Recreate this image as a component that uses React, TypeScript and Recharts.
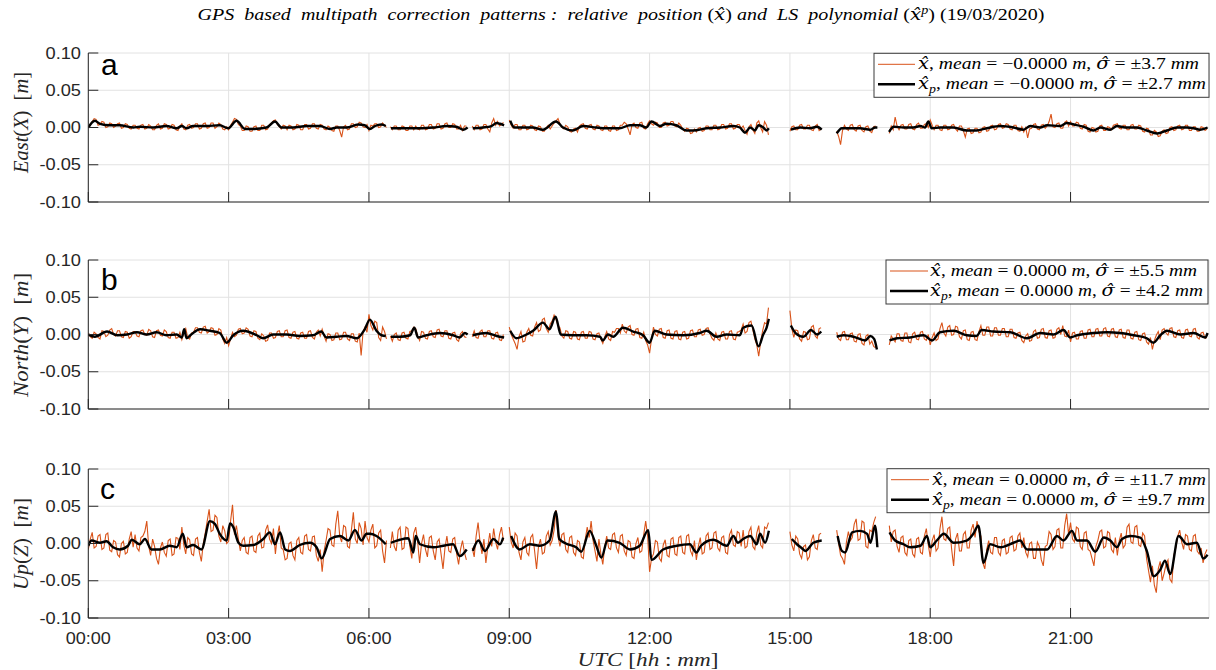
import React from 'react';
import { LineChart, Line, XAxis, YAxis, CartesianGrid } from 'recharts';

// ---------- DATA ----------
// Raw relative-position series (x̂): one sample every 2.5 minutes from 00:00
// (24 values per hour row), values in mm, null = data gap.
const STEP_MIN = 2.5;

const eastRawMm: (number | null)[] = [
  0, 4, 8, 12, 11, 3, 4, 8, 7, 0, 1, 6, 5, 0, 2, 5, 6, -1, 0, 5, 4, -1, -2, 3,
  3, -1, -2, 3, 4, -2, -1, 4, 2, -3, -3, 3, 5, -2, -1, 5, 4, -2, -1, 4, 3, -3, -4, 2,
  5, -2, -3, 3, 4, -1, 0, 5, 5, -2, -1, 5, 6, -1, 0, 6, 6, -1, 1, 6, 4, -2, -3, 1,
  -3, 3, 7, 12, 11, 4, 2, -4, -4, 2, 1, -5, -5, 1, 2, -4, -4, 3, 3, -3, -2, 4, 6, 9,
  10, 4, 1, -2, 3, 2, -3, 3, 2, -3, -2, 4, 3, -3, -3, 4, 4, -2, -1, 5, 5, -1, -2, 4,
  3, -2, -3, 2, 0, -4, -5, 2, 2, -4, -13, 1, 3, -3, -2, 5, 5, 0, 1, 7, 6, 1, 0, 4,
  -4, 3, 2, 5, 5, 0, 1, 6, 3, 0, null, 1, -3, 2, 2, -3, -3, 2, 1, -4, -4, 2, 2, -3,
  2, -2, -3, 3, 3, -3, -2, 4, 4, -2, -1, 5, 5, -2, -1, 5, 6, 0, 0, 5, 4, -2, -2, 3,
  -4, 2, 2, null, null, 2, -3, 3, 3, -3, -2, 4, 4, -2, -6, 6, 12, 3, 8, 2, 4, 7, null, null,
  10, 3, -1, 4, 4, -3, -3, 3, 3, -3, -2, 3, 2, -3, -4, 2, 1, -5, -5, 0, 3, -2, 2, 6,
  9, 12, 5, 0, -2, 3, 1, -5, -6, -2, -1, -6, 2, 4, 5, -1, -2, 3, 4, -2, -3, 3, 2, -3,
  -4, 2, 2, -4, -5, 2, 2, -4, -3, 3, 3, 7, 5, -2, -10, 4, 6, 0, -1, 6, 7, -1, -2, 5,
  9, 5, 3, 7, 6, 0, 0, 6, 7, 2, 3, 8, 8, 2, 1, 6, 3, -2, -5, -1, -2, -8, -7, -2,
  -6, -1, 0, -5, -4, 2, 2, -3, -3, 3, 3, -3, -2, 4, 4, -2, -1, 5, 5, -2, -1, 4, 4, -1,
  2, -4, -9, 1, 4, -3, -8, 6, 9, 0, -6, 8, 3, -10, null, null, null, null, null, null, null, null, null, null,
  -5, 1, 2, -3, -3, 3, 4, -2, -2, 3, 3, -3, -4, 2, 4, -4, -2, null, null, null, null, null, null, null,
  -5, -12, -23, -4, 3, -2, -4, 3, 4, -3, -5, 2, 3, -4, -6, 1, 2, -5, -7, 1, 2, null, null, null,
  null, null, null, -8, 2, -3, 14, 2, -3, 3, 4, -2, -2, 4, 5, -2, -3, 4, 6, -1, -1, 4, 5, 0,
  10, 3, -3, 3, 3, -3, -4, 3, 3, -3, -2, 3, 4, -2, -5, 2, 2, -4, -13, -2, -1, -8, -7, -1,
  -1, -7, -6, 0, 1, -5, -4, 2, 3, -3, -2, 4, 5, -1, 0, 5, 4, -2, -3, 3, 3, -4, -5, 1,
  -6, 0, -14, -2, -1, 4, 5, -2, -3, 3, 4, -1, 2, 8, 18, 1, 0, 5, 6, -1, -1, 7, 9, 2,
  8, 2, 2, 7, 6, -1, -2, 4, 3, -5, -6, 0, -1, -6, -5, 2, 3, -4, -4, 1, 0, -3, 3, 4,
  5, -1, -2, 3, 3, -3, -3, 3, 4, -2, -2, 3, 2, -5, -6, -1, -2, -10, -10, -4, -6, -12, -11, -5,
  -3, -8, -7, 0, 1, -4, -3, 2, 3, -3, -2, 3, 3, -4, -4, 1, 1, -5, -5, 1, 0, -4, -2, null,
];

const northRawMm: (number | null)[] = [
  2, -3, -5, 3, 1, -4, -6, 5, 4, -3, -1, 6, 8, 0, -2, 5, 5, -3, -4, 4, 3, -5, -3, 4,
  4, -2, -3, 5, 6, 0, -1, 7, 5, -3, -4, 5, 6, -1, -2, 6, 4, -4, -5, 3, 3, -5, -4, 3,
  -7, 2, 8, -4, -6, 2, 3, 9, 9, 3, 2, 10, 11, 2, 4, 9, 8, -1, 0, 8, 6, -6, -12, -4,
  -15, -6, 3, -3, -1, 7, 8, 1, 2, 9, 7, -2, -3, 5, 4, -5, -7, 1, -2, -9, -8, 2, 2, -5,
  -4, 4, 5, -3, -3, 5, 6, -4, -5, 3, 4, -5, -6, 2, 3, -5, -5, 4, 5, -4, -6, 3, 6, -2,
  7, -2, -9, 1, 0, -8, -7, 2, 2, -7, -6, 3, 3, -6, -8, 1, 1, -9, -10, 2, -28, 4, 10, 3,
  27, 12, 6, 18, 16, -4, -8, 10, 4, -6, null, -2, -9, 0, 2, -7, -8, 2, 3, -5, -6, 4, 5, 10,
  8, -2, -8, 4, 3, -5, -6, 4, 5, -3, -4, 6, 7, -2, -3, 5, 5, -5, -6, 2, 3, -7, -9, 1,
  4, -3, -4, null, null, -3, 5, -4, -5, 4, 6, -3, -3, 5, 5, -5, -6, 2, 3, -7, -8, 0, null, null,
  10, 0, -6, -12, -20, -3, 4, -10, -9, 3, 8, -1, -2, 10, 16, 4, 6, 20, 22, 8, 3, 14, 18, 26,
  20, 12, 9, -2, -5, 5, 4, -5, -6, 4, 3, -6, -7, 3, 4, -5, -5, 4, 3, -6, -7, 1, 2, -6,
  -12, -3, 4, -6, -8, 4, 3, 8, 8, 2, 14, 5, 2, 10, 12, 0, -1, 7, 8, -4, -5, 3, -8, -14,
  -25, -6, 10, 0, -2, 7, 8, -4, -5, 5, 6, -5, -6, 4, 5, -6, -7, 3, 4, -6, -5, 5, 6, -3,
  -3, 6, 7, -1, 0, 8, 9, 1, -5, -8, 2, -6, -8, 3, 4, -6, -6, 4, 5, -6, -7, 3, 4, 6,
  14, 2, 4, 16, 18, 6, -6, -14, -29, -10, 5, 16, 14, 36, null, null, null, null, null, null, null, null, null, null,
  32, 8, -4, 6, 5, -6, -9, 4, 3, -7, -6, 10, 12, -2, -5, 8, 9, null, null, null, null, null, null, null,
  3, -6, -8, 3, 4, -7, -7, 1, 2, -9, -10, 0, 1, -12, -14, -2, 0, -13, -9, -16, -18, null, null, null,
  null, null, null, -14, -2, -6, -10, 1, 1, -8, -9, 2, 2, -10, -11, 1, 3, -6, -7, 3, 4, -6, -8, 0,
  -14, -4, 2, -8, -6, 8, 16, 2, -2, 10, 12, -1, 0, 11, 10, -3, -6, 5, 6, -7, -8, 3, 4, -7,
  -8, 4, 12, -1, -1, 10, 10, -2, -2, 9, 9, -1, -1, 8, 8, -3, -3, 7, 7, -4, -5, 2, 3, -8,
  -11, -2, 1, -9, -8, 4, 6, -5, -4, 7, 8, -4, -5, 5, 6, -5, -4, 7, 9, 0, 12, -2, -3, 6,
  -10, 2, 3, -6, -6, 4, 5, -5, -5, 6, 7, -3, -3, 7, 8, -2, -2, 8, 9, -2, -3, 7, 8, -3,
  -4, 6, 7, -4, -5, 6, 6, -5, -6, 3, 4, -7, -8, 1, 2, -10, -13, -4, -20, -8, -1, 4, -7, 6,
  8, 2, -1, 8, 9, -3, -4, 5, 6, -4, -5, 6, 7, -2, -3, 7, 8, -4, -6, 2, 3, -5, -4, null,
];

const upRawMm: (number | null)[] = [
  -8, 6, 15, -6, -4, 10, 12, -8, -6, 12, 14, -9, -11, 4, 2, -15, -18, 0, 3, -14, -12, 6, 16, -5,
  12, -6, -10, 8, 10, 16, 30, -4, -16, 6, -4, -20, -28, -6, 2, -12, -17, 4, 6, -16, -14, 8, 7, -8,
  22, -2, -14, 8, 5, -14, -16, 6, 8, -12, -24, 0, 14, 30, 46, 16, 18, 38, 35, 10, 2, 24, 17, 0,
  3, 30, 52, 12, 24, 6, -10, 4, 8, -12, -14, 8, 10, -10, -12, 10, 14, -6, -5, 18, 25, 6, 0, 20,
  -14, 10, 24, -6, -8, -22, -20, 0, 2, -16, -22, 4, 8, -12, -14, 10, 12, -8, -10, 9, 10, -16, -24, -8,
  -38, -10, 4, 20, 18, -2, -4, 26, 44, 10, 2, 24, 22, -4, -6, 18, 42, 6, 0, 28, 20, -2, 30, 8,
  2, 18, 26, -6, -3, 14, 18, -10, -26, 4, null, -6, 16, -4, -10, 18, 22, -8, -6, 22, 20, -4, -20, 14,
  22, 2, -26, 0, 12, -8, -18, 8, 10, -10, -22, 2, 6, -14, -34, -6, 10, -10, -12, 6, 8, -14, -28, -8,
  4, -12, -22, null, null, -6, -18, 10, 28, 2, -14, 6, -26, -4, 14, -4, 20, 2, -8, 12, 22, 4, null, null,
  22, 2, -6, 14, 10, -12, -22, 2, 8, -12, -16, 8, 12, -10, -34, -4, 6, -14, -12, 10, 16, -2, 4, 18,
  45, 10, -4, 12, 14, -8, -12, 8, 10, -12, -16, 4, 2, -18, -20, 6, 22, 8, 30, 4, -10, -24, 6, -14,
  -28, -4, 10, -6, -8, 12, 14, -6, -12, 10, 12, -10, -16, 4, 2, -18, -20, 0, 8, -12, -10, 12, 30, 10,
  -38, -20, -14, 4, 2, -20, -24, -2, 5, -16, -18, 6, 8, -14, -16, 8, 10, -12, -14, 10, 12, -10, -16, 4,
  -22, -4, 8, -14, -12, 10, 14, -8, -6, 14, 16, -6, -10, 8, 10, -12, -14, 12, 18, -2, -4, 16, 14, -4,
  18, -6, -4, 16, 22, -4, -8, 14, 24, -2, -6, 22, 20, 28, null, null, null, null, null, null, null, null, null, null,
  16, -2, -10, 10, 6, -14, -20, -4, -2, -22, -18, 4, 12, -6, -8, 12, 14, null, null, null, null, null, null, null,
  18, 0, -16, -20, -28, 2, 16, 4, 8, 26, 33, 4, 6, 30, 28, -4, -6, 18, 16, 28, 36, null, null, null,
  null, null, null, 24, 2, 16, 18, -4, -12, 8, 10, -12, -16, 4, 6, -14, -18, 6, 8, -12, -14, 10, 20, -2,
  -18, 4, 12, -10, -6, 20, 36, 6, 4, 20, 22, -8, -30, 6, 14, -10, -10, 12, 16, -6, -6, 18, 26, 8,
  30, 16, 10, -26, -34, -8, 4, -12, -14, 8, 8, -12, -16, 4, 6, -14, -12, 8, 10, -10, -8, 10, 14, -6,
  8, -12, -18, 0, 2, -20, -20, 2, -4, -22, -30, -4, -2, 16, 12, -8, -4, 18, 20, -6, -6, 24, 40, 12,
  28, 6, 2, 22, 20, -4, -8, 14, 16, -8, -10, -20, -30, -4, 4, 16, 18, -6, -4, 16, 14, -8, -12, 8,
  -16, 4, 14, -6, -2, 22, 26, 2, 0, 22, 24, -2, -4, 14, 10, -20, -36, -52, -30, -56, -66, -34, -24, -50,
  -40, -28, -22, -48, -52, -16, -6, 10, 18, 2, -8, 12, 10, -8, -10, 10, 12, -10, -14, -6, -26, -14, -8, null,
];

// LS polynomial fit (x̂p): [time in hours, value in mm], null = gap
const eastFitMm: [number, number | null][] = [
  [0, 0], [0.14, 9], [0.25, 5], [0.46, 3], [0.67, 3], [0.96, 0], [1.1, 1], [1.39, 0], [1.67, 2], [1.89, -1],
  [2.0, 2], [2.1, -1], [2.24, 2], [2.53, 2], [2.81, 3], [2.99, -1], [3.17, 9], [3.35, -2], [3.53, -2], [3.81, 0],
  [3.99, 8], [4.13, 0], [4.38, 0], [4.67, 2], [4.95, 2], [5.17, -2], [5.31, 0], [5.52, 0], [5.77, 4], [5.91, 3],
  [6.02, -2], [6.13, 2], [6.27, 4], [6.36, 2], [6.42, null],
  [6.47, -1], [6.66, -1], [7.09, -1], [7.38, 0], [7.66, 2], [7.87, 1], [8.02, -3], [8.11, 0], [8.16, null],
  [8.22, -1], [8.44, 0], [8.62, 2], [8.73, 6], [8.8, 5], [8.89, 3], [8.95, null],
  [9.02, 9], [9.11, 0], [9.29, 0], [9.5, 0], [9.72, -3], [10.0, 8], [10.15, 0], [10.36, -4], [10.58, 2], [10.86, 0],
  [11.07, -1], [11.36, -1], [11.58, 3], [11.79, 3], [11.93, 0], [12.04, 8], [12.22, 2], [12.36, 5], [12.57, 3],
  [12.79, -4], [12.93, -4], [13.22, -1], [13.51, 0], [13.79, 2], [13.93, 0], [14.04, -7], [14.15, 0], [14.25, -4],
  [14.33, 3], [14.43, 0], [14.5, -4], [14.55, -1], [14.8, null],
  [15.02, -3], [15.22, 0], [15.43, -1], [15.58, 1], [15.68, -3], [15.84, null],
  [16.0, -8], [16.11, -1], [16.29, -1], [16.5, -1], [16.72, -3], [16.82, 0], [16.87, 0], [17.0, null],
  [17.12, -6], [17.22, 1], [17.43, 0], [17.64, 0], [17.79, 2], [17.89, 0], [17.96, 8], [18.03, -1], [18.21, 0],
  [18.49, 0], [18.78, -4], [18.99, -4], [19.21, -1], [19.5, 2], [19.78, 0], [19.99, -3], [20.14, 2], [20.35, 0],
  [20.5, 3], [20.78, 2], [20.92, 6], [21.07, 4], [21.28, 1], [21.49, -4], [21.64, 0], [21.85, -3], [21.99, 2],
  [22.17, 0], [22.42, 0], [22.63, -4], [22.85, -8], [23.06, -4], [23.27, 0], [23.49, 0], [23.63, -1], [23.77, -3],
  [23.93, 0],
];

const northFitMm: [number, number | null][] = [
  [0, 0], [0.14, -3], [0.4, 4], [0.62, -1], [0.83, 0], [1.04, 3], [1.25, 0], [1.46, 3], [1.67, -1], [1.89, 0],
  [2.0, -4], [2.05, 7], [2.1, -5], [2.2, 0], [2.39, 7], [2.6, 5], [2.81, 2], [2.96, -11], [3.1, -1], [3.31, 5],
  [3.6, -1], [3.74, -5], [3.95, 0], [4.24, 0], [4.52, -2], [4.8, -1], [4.98, 4], [5.09, -4], [5.31, -3], [5.52, -2],
  [5.74, -5], [5.91, 7], [6.02, 20], [6.16, 5], [6.27, -1], [6.36, -2], [6.42, null],
  [6.47, -3], [6.66, -3], [6.88, -1], [6.97, 9], [7.05, -4], [7.23, -1], [7.52, 2], [7.8, -1], [7.94, -4],
  [8.05, 2], [8.11, 0], [8.16, null],
  [8.22, -1], [8.51, 2], [8.73, -2], [8.89, -4], [8.95, null],
  [9.02, 5], [9.15, -5], [9.37, 0], [9.51, 5], [9.72, 16], [9.86, 7], [9.99, 24], [10.1, 0], [10.36, -1],
  [10.65, -1], [10.94, -3], [11.0, -8], [11.11, 0], [11.22, -3], [11.43, 9], [11.65, 4], [11.86, -1], [12.0, -11],
  [12.11, 5], [12.36, 0], [12.72, -1], [13.07, 2], [13.22, 5], [13.43, -3], [13.65, 0], [13.93, -1], [14.0, 9],
  [14.18, 12], [14.33, -16], [14.43, 0], [14.5, 9], [14.55, 21], [14.8, null],
  [15.02, 12], [15.12, 2], [15.29, -3], [15.45, 6], [15.58, 0], [15.67, 4], [15.84, null],
  [16.0, -3], [16.15, -1], [16.36, -3], [16.61, -8], [16.72, -2], [16.8, -6], [16.86, -20], [17.0, null],
  [17.13, -8], [17.29, -5], [17.57, -4], [17.86, -1], [18.04, -8], [18.21, 3], [18.5, 5], [18.78, -1], [18.99, -2],
  [19.1, 6], [19.35, 4], [19.71, 3], [20.07, -5], [20.35, 2], [20.64, 0], [20.85, 6], [20.99, -4], [21.14, -1],
  [21.49, 2], [21.78, 3], [22.06, 2], [22.35, -1], [22.63, -5], [22.77, -11], [22.92, -1], [23.06, 5], [23.35, 0],
  [23.63, 2], [23.88, -4], [23.93, 2],
];

const upFitMm: [number, number | null][] = [
  [0, -3], [0.07, 4], [0.25, 1], [0.39, 3], [0.53, -5], [0.67, -8], [0.85, -3], [0.93, 5], [1.1, -1], [1.21, 6],
  [1.35, -8], [1.53, -8], [1.74, -3], [1.89, -5], [2.02, 13], [2.1, -5], [2.24, -2], [2.42, -8], [2.6, 30],
  [2.71, 26], [2.81, 13], [2.96, 4], [3.03, 27], [3.1, 22], [3.21, 1], [3.31, -3], [3.53, -2], [3.74, 6], [3.88, 15],
  [3.99, -1], [4.1, 15], [4.21, -8], [4.31, -10], [4.52, -2], [4.74, 1], [4.88, -5], [4.99, -20], [5.17, 6],
  [5.38, 10], [5.56, 4], [5.7, 18], [5.84, 4], [5.95, 13], [6.02, 13], [6.16, 10], [6.36, -1], [6.42, null],
  [6.47, 1], [6.66, 5], [6.84, 7], [6.95, -12], [7.0, 10], [7.09, -1], [7.38, -5], [7.59, -3], [7.8, -1],
  [7.94, -17], [8.09, -8], [8.16, null],
  [8.22, -10], [8.34, 4], [8.48, -10], [8.66, 6], [8.8, -1], [8.87, 8], [8.95, null],
  [9.04, 10], [9.22, -8], [9.44, -1], [9.65, -3], [9.86, 4], [10.0, 43], [10.07, 6], [10.21, 0], [10.43, -5],
  [10.54, -11], [10.72, 17], [10.86, -3], [10.97, -19], [11.1, 4], [11.36, 1], [11.58, -8], [11.79, -3], [11.97, 18],
  [12.04, -22], [12.29, -8], [12.58, -3], [12.86, -1], [13.0, -12], [13.1, -3], [13.36, 5], [13.65, -3], [13.79, 10],
  [13.89, 1], [14.0, 6], [14.15, 10], [14.29, -1], [14.36, 13], [14.47, 1], [14.55, 17], [14.8, null],
  [15.04, 6], [15.15, -1], [15.25, -6], [15.33, -10], [15.5, 1], [15.68, 4], [15.84, null],
  [16.02, 10], [16.11, -10], [16.18, -12], [16.33, 15], [16.5, 17], [16.65, 13], [16.72, 1], [16.82, 24],
  [16.87, -5], [17.0, null],
  [17.13, 15], [17.25, 4], [17.43, -1], [17.57, -5], [17.79, -3], [17.93, 10], [18.0, -5], [18.14, 4], [18.29, 13],
  [18.5, 1], [18.78, 4], [18.92, 13], [19.03, 24], [19.14, -26], [19.28, -1], [19.5, -5], [19.78, 1], [19.92, 4],
  [20.07, -8], [20.35, -8], [20.5, -8], [20.71, 10], [20.85, 4], [21.03, 17], [21.14, 4], [21.35, 4], [21.53, -11],
  [21.71, 8], [21.85, 4], [21.99, -5], [22.1, 6], [22.28, 10], [22.49, 8], [22.63, -10], [22.78, -44], [22.92, -35],
  [23.02, -23], [23.13, -41], [23.31, 10], [23.49, -1], [23.7, 1], [23.84, -20], [23.93, -15],
];

const xTicks = [0, 3, 6, 9, 12, 15, 18, 21];
const yTicks = [-0.1, -0.05, 0, 0.05, 0.1];
const panelLetters = ['a', 'b', 'c'];
const yTitles = [
  { name: 'East', axis: 'X' },
  { name: 'North', axis: 'Y' },
  { name: 'Up', axis: 'Z' },
];
const legendMeans = [
  ['\u22120.0000', '\u22120.0000'],
  ['0.0000', '0.0000'],
  ['0.0000', '0.0000'],
];
const legendSigmas = [
  ['3.7', '2.7'],
  ['5.5', '4.2'],
  ['11.7', '9.7'],
];

// ---------- STYLE / LAYOUT ----------
const ORANGE = '#D95319';
const AXIS = '#262626';
const GRID = '#e2e2e2';
const SANS = '"Liberation Sans", Arial, Helvetica, sans-serif';
const SERIF = '"Liberation Serif", "Times New Roman", serif';
const HATFONT = '"DejaVu Serif", serif';

const PLOT_LEFT = 88.3;
const PLOT_RIGHT = 1209;
const PLOT_H = 149;
const PANEL_TOPS = [53.3, 260, 468.7];
const TOP_PAD = 10;
const X_DOMAIN: [number, number] = [0, 23.96];

const LEGENDS = [
  { x: 874, w: 335, lineX1: 878, lineX2: 915, textX: 918, textW: [281, 288] },
  { x: 886, w: 322, lineX1: 890, lineX2: 928, textX: 930, textW: [267, 273] },
  { x: 887, w: 322, lineX1: 891, lineX2: 929, textX: 932, textW: [274, 273] },
];
const LETTER_POS = [
  { x: 101, y: 75 },
  { x: 101, y: 290 },
  { x: 100, y: 499 },
];
const YTITLE_POS = [
  { cy: 122.5, len: 101 },
  { cy: 335, len: 124 },
  { cy: 544, len: 92 },
];

const toRaw = (mm: (number | null)[]) =>
  mm.map((v, i) => ({ t: (i * STEP_MIN) / 60, v: v == null ? null : v / 1000 }));
const toFit = (pairs: [number, number | null][]) =>
  pairs.map(([t, v]) => ({ t, v: v == null ? null : v / 1000 }));

const panels = [
  { raw: toRaw(eastRawMm), fit: toFit(eastFitMm) },
  { raw: toRaw(northRawMm), fit: toFit(northFitMm) },
  { raw: toRaw(upRawMm), fit: toFit(upFitMm) },
];

const pad2 = (n: number) => String(n).padStart(2, '0');
const fmtHour = (h: number) => `${pad2(Math.floor(h))}:${pad2(Math.round((h % 1) * 60))}`;

const XTick = (props: any) => {
  const { x, y, payload, showLabel } = props;
  return (
    <g>
      <line x1={x} x2={x} y1={y} y2={y - 10} stroke={AXIS} strokeWidth={1} />
      {showLabel ? (
        <text
          transform={`translate(${x},${y + 25.5}) scale(1.13,1)`}
          textAnchor="middle"
          fontFamily={SANS}
          fontSize={16}
          fill={AXIS}
        >
          {fmtHour(payload.value)}
        </text>
      ) : null}
    </g>
  );
};

const YTick = (props: any) => {
  const { x, y, payload } = props;
  return (
    <g>
      <line x1={x} x2={x + 10} y1={y} y2={y} stroke={AXIS} strokeWidth={1} />
      <text
        transform={`translate(${x - 7.3},${y + 5.7}) scale(1.14,1)`}
        textAnchor="end"
        fontFamily={SANS}
        fontSize={16}
        fill={AXIS}
      >
        {Number(payload.value).toFixed(2)}
      </text>
    </g>
  );
};

function Panel({ index }: { index: number }) {
  const top = PANEL_TOPS[index];
  const { raw, fit } = panels[index];
  const showLabels = index === 2;
  return (
    <div style={{ position: 'absolute', left: 0, top: top - TOP_PAD }}>
      <LineChart
        width={1216}
        height={TOP_PAD + PLOT_H + 40}
        margin={{ top: TOP_PAD, right: 1216 - PLOT_RIGHT, left: PLOT_LEFT - 60, bottom: 0 }}
      >
        <CartesianGrid stroke={GRID} strokeWidth={1} />
        <XAxis
          type="number"
          dataKey="t"
          domain={X_DOMAIN}
          ticks={xTicks}
          interval={0}
          allowDataOverflow
          height={40}
          tickLine={false}
          tickSize={0}
          tickMargin={0}
          axisLine={{ stroke: AXIS, strokeWidth: 1 }}
          tick={(p: any) => <XTick {...p} showLabel={showLabels} />}
        />
        <YAxis
          type="number"
          domain={[-0.1, 0.1]}
          ticks={yTicks}
          interval={0}
          allowDataOverflow
          width={60}
          tickLine={false}
          tickSize={0}
          tickMargin={0}
          axisLine={{ stroke: AXIS, strokeWidth: 1 }}
          tick={(p: any) => <YTick {...p} />}
        />
        <Line
          data={raw}
          dataKey="v"
          type="linear"
          stroke={ORANGE}
          strokeWidth={1.1}
          dot={false}
          activeDot={false}
          connectNulls={false}
          isAnimationActive={false}
        />
        <Line
          data={fit}
          dataKey="v"
          type="monotone"
          stroke="#000000"
          strokeWidth={2.4}
          dot={false}
          activeDot={false}
          connectNulls={false}
          isAnimationActive={false}
        />
      </LineChart>
    </div>
  );
}

function LegendRow({ x, y, w, sub, mean, sigma }: any) {
  return (
    <text
      x={x}
      y={y}
      textLength={w}
      lengthAdjust="spacingAndGlyphs"
      fontFamily={SERIF}
      fontSize={17}
      fill="#000"
      style={{ whiteSpace: 'pre' }}
    >
      <tspan fontStyle="italic" fontFamily={HATFONT}>{'x\u0302'}</tspan>
      {sub ? (
        <tspan fontStyle="italic" fontSize={12} dy={4}>
          p
        </tspan>
      ) : null}
      <tspan dy={sub ? -4 : 0}>{', '}</tspan>
      <tspan fontStyle="italic">mean</tspan>
      <tspan>{` = ${mean} `}</tspan>
      <tspan fontStyle="italic">m</tspan>
      <tspan>{', '}</tspan>
      <tspan fontStyle="italic" fontFamily={HATFONT}>{'\u03c3\u0302'}</tspan>
      <tspan>{` = \u00b1${sigma} `}</tspan>
      <tspan fontStyle="italic">mm</tspan>
    </text>
  );
}

function Overlay() {
  return (
    <svg
      width={1216}
      height={670}
      style={{ position: 'absolute', left: 0, top: 0, pointerEvents: 'none' }}
    >
      {/* Title */}
      <text
        x={621}
        y={20}
        textAnchor="middle"
        textLength={847}
        lengthAdjust="spacingAndGlyphs"
        fontFamily={SERIF}
        fontSize={17}
        fill="#000"
        style={{ whiteSpace: 'pre' }}
      >
        <tspan fontStyle="italic">GPS  based  multipath  correction  patterns :  relative  position </tspan>
        <tspan>(</tspan>
        <tspan fontStyle="italic" fontFamily={HATFONT}>{'x\u0302'}</tspan>
        <tspan>)</tspan>
        <tspan fontStyle="italic"> and  LS  polynomial </tspan>
        <tspan>(</tspan>
        <tspan fontStyle="italic" fontFamily={HATFONT}>{'x\u0302'}</tspan>
        <tspan fontStyle="italic" fontSize={12} dy={-6}>
          p
        </tspan>
        <tspan dy={6}>) (19/03/2020)</tspan>
      </text>

      {PANEL_TOPS.map((top, i) => {
        const lg = LEGENDS[i];
        const r1 = top + 11;
        const r2 = top + 31;
        return (
          <g key={i}>
            {/* panel letter */}
            <text x={LETTER_POS[i].x} y={LETTER_POS[i].y} fontFamily={SANS} fontSize={30} fill="#000">
              {panelLetters[i]}
            </text>
            {/* y axis title */}
            <text
              transform={`translate(28,${YTITLE_POS[i].cy}) rotate(-90)`}
              textAnchor="middle"
              textLength={YTITLE_POS[i].len}
              lengthAdjust="spacingAndGlyphs"
              fontFamily={SERIF}
              fontSize={20}
              fill={AXIS}
              style={{ whiteSpace: 'pre' }}
            >
              <tspan fontStyle="italic">{yTitles[i].name}</tspan>
              <tspan>(</tspan>
              <tspan fontStyle="italic">{yTitles[i].axis}</tspan>
              <tspan>{')  ['}</tspan>
              <tspan fontStyle="italic">m</tspan>
              <tspan>]</tspan>
            </text>
            {/* legend */}
            <rect x={lg.x} y={top} width={lg.w} height={44} fill="#ffffff" stroke="#3a3a3a" strokeWidth={1} />
            <line x1={lg.lineX1} x2={lg.lineX2} y1={r1} y2={r1} stroke={ORANGE} strokeWidth={1} />
            <line x1={lg.lineX1} x2={lg.lineX2} y1={r2} y2={r2} stroke="#000" strokeWidth={2.4} />
            <LegendRow x={lg.textX} y={r1 + 5} w={lg.textW[0]} sub={false} mean={legendMeans[i][0]} sigma={legendSigmas[i][0]} />
            <LegendRow x={lg.textX} y={r2 + 5} w={lg.textW[1]} sub={true} mean={legendMeans[i][1]} sigma={legendSigmas[i][1]} />
          </g>
        );
      })}

      {/* x axis title */}
      <text
        x={648}
        y={666}
        textAnchor="middle"
        textLength={141}
        lengthAdjust="spacingAndGlyphs"
        fontFamily={SERIF}
        fontSize={19}
        fill={AXIS}
        style={{ whiteSpace: 'pre' }}
      >
        <tspan fontStyle="italic">UTC</tspan>
        <tspan>{' ['}</tspan>
        <tspan fontStyle="italic">hh</tspan>
        <tspan>{' : '}</tspan>
        <tspan fontStyle="italic">mm</tspan>
        <tspan>]</tspan>
      </text>
    </svg>
  );
}

export default function App() {
  return (
    <div
      style={{
        position: 'absolute',
        left: 0,
        top: 0,
        width: 1216,
        height: 670,
        background: '#ffffff',
        overflow: 'hidden',
      }}
    >
      <Panel index={0} />
      <Panel index={1} />
      <Panel index={2} />
      <Overlay />
    </div>
  );
}
